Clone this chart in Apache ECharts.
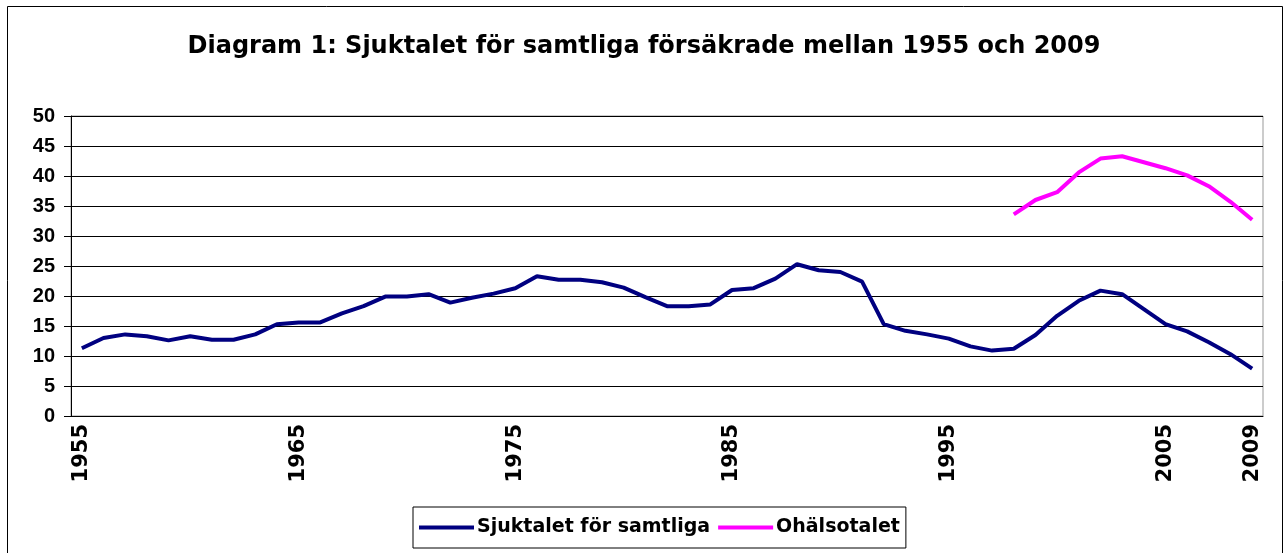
<!DOCTYPE html>
<html lang="sv">
  <head>
    <meta charset="utf-8" />
    <style>
      html, body { margin: 0; padding: 0; background: #fff; }
      #container { width: 1288px; height: 553px; }
    </style>
  </head>
  <body>
    <div id="container"></div>
    <script type="text/javascript" src="https://cdn.jsdelivr.net/npm/echarts@6/dist/echarts.min.js"></script>
    <script type="text/javascript">
      var years = [];
      for (var y = 1955; y <= 2009; y++) years.push(String(y));

      var sjuktalet = [
        11.3, 13.0, 13.6, 13.3, 12.6, 13.3, 12.7, 12.7, 13.6, 15.3,
        15.6, 15.6, 17.1, 18.3, 19.9, 19.9, 20.3, 18.9, 19.7, 20.4,
        21.3, 23.3, 22.7, 22.7, 22.3, 21.4, 19.8, 18.3, 18.3, 18.6,
        21.0, 21.3, 22.9, 25.3, 24.3, 24.0, 22.4, 15.3, 14.2, 13.6,
        12.9, 11.6, 10.9, 11.2, 13.5, 16.7, 19.2, 20.9, 20.3, 17.8,
        15.3, 14.1, 12.3, 10.3, 7.9
      ];

      var ohalsotalet = [
        null, null, null, null, null, null, null, null, null, null,
        null, null, null, null, null, null, null, null, null, null,
        null, null, null, null, null, null, null, null, null, null,
        null, null, null, null, null, null, null, null, null, null,
        null, null, null, 33.6, 36.0, 37.3, 40.6, 42.9, 43.3, 42.3,
        41.3, 40.1, 38.3, 35.7, 32.7
      ];

      var seriesNames = ["Sjuktalet för samtliga", "Ohälsotalet"];
      var titleText = "Diagram 1: Sjuktalet för samtliga försäkrade mellan 1955 och 2009";

      var font = "'Liberation Sans', Arial, sans-serif";
      var wideFont = "'DejaVu Sans', 'Liberation Sans', sans-serif";

      var dom = document.getElementById("container");
      var myChart = echarts.init(dom, null, { renderer: "canvas" });

      var option = {
        animation: false,
        backgroundColor: "#fff",
        textStyle: { fontFamily: font },
        title: {
          text: titleText,
          left: "center",
          top: 30,
          textStyle: { fontSize: 24, fontWeight: "bold", color: "#000", fontFamily: wideFont }
        },
        graphic: [
          {
            type: "rect",
            shape: { x: 7.5, y: 6.5, width: 1275, height: 560 },
            style: { fill: null, stroke: "#000", lineWidth: 1 },
            silent: true
          }
        ],
        legend: {
          data: seriesNames,
          left: 413,
          top: 507,
          padding: [11, 6, 11, 6],
          itemGap: 8,
          itemWidth: 55,
          itemHeight: 4,
          icon: "rect",
          borderColor: "#000",
          borderWidth: 1,
          textStyle: { fontSize: 19, fontWeight: "bold", color: "#000", fontFamily: wideFont, padding: [0, 0, 0, -2] }
        },
        grid: {
          left: 71,
          right: 25,
          top: 116,
          bottom: 137,
          show: true,
          borderColor: "#999",
          borderWidth: 1,
          containLabel: false
        },
        xAxis: {
          type: "category",
          data: years,
          boundaryGap: true,
          axisLine: { lineStyle: { color: "#000", width: 1 } },
          axisTick: { interval: 0, length: 6, lineStyle: { color: "#000" } },
          axisLabel: {
            rotate: 90,
            margin: 8,
            interval: function (index) { return index % 10 === 0 || index === years.length - 1; },
            fontSize: 21,
            fontWeight: "bold",
            color: "#000",
            fontFamily: wideFont
          },
          splitLine: { show: false }
        },
        yAxis: {
          type: "value",
          min: 0,
          max: 50,
          interval: 5,
          axisLine: { show: true, lineStyle: { color: "#000", width: 1 } },
          axisTick: { show: true, length: 7, lineStyle: { color: "#000" } },
          axisLabel: { margin: 16, fontSize: 20, fontWeight: "bold", color: "#000", fontFamily: font },
          splitLine: { lineStyle: { color: "#000", width: 1 } }
        },
        series: [
          {
            name: seriesNames[0],
            type: "line",
            data: sjuktalet,
            symbol: "none",
            color: "#000080",
            lineStyle: { width: 4, color: "#000080" }
          },
          {
            name: seriesNames[1],
            type: "line",
            data: ohalsotalet,
            symbol: "none",
            color: "#ff00ff",
            lineStyle: { width: 4, color: "#ff00ff" }
          }
        ]
      };

      myChart.setOption(option);
      window.addEventListener("resize", myChart.resize);
    </script>
  </body>
</html>
